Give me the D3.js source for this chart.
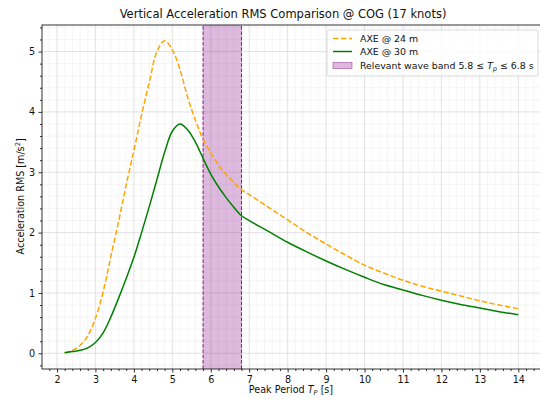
<!DOCTYPE html>
<html>
<head>
<meta charset="utf-8">
<script src="https://cdn.jsdelivr.net/npm/d3@7"></script>
<style>
  body { margin: 0; background: #fff; }
  svg { display: block; font-family: "DejaVu Sans", sans-serif; }
</style>
</head>
<body>
<svg id="chart"></svg>
<script>
// peak period Tp [s] and RMS values
const tp24 = [2.2, 2.4, 2.6, 2.8, 3.0, 3.2, 3.4, 3.6, 3.8, 4.0, 4.2, 4.4, 4.6, 4.8, 5.0, 5.2, 5.4, 5.6, 5.8, 6.0, 6.2, 6.4, 6.6, 6.8,
              7.0, 7.5, 8.0, 8.5, 9.0, 9.5, 10.0, 10.5, 11.0, 11.5, 12.0, 12.5, 13.0, 13.5, 14.0];
const rms24 = [0.01, 0.05, 0.13, 0.29, 0.58, 1.02, 1.60, 2.18, 2.79, 3.36, 3.95, 4.49, 5.00, 5.18, 5.03, 4.70, 4.24, 3.86, 3.55, 3.32, 3.12, 2.96, 2.83, 2.71,
               2.63, 2.42, 2.21, 2.00, 1.81, 1.63, 1.46, 1.33, 1.21, 1.11, 1.03, 0.95, 0.87, 0.80, 0.74];

const tp30 = tp24;
const rms30 = [0.01, 0.03, 0.05, 0.09, 0.18, 0.34, 0.60, 0.91, 1.24, 1.59, 2.0, 2.43, 2.88, 3.33, 3.68, 3.80, 3.70, 3.50, 3.23, 2.97, 2.76, 2.58, 2.42, 2.28,
               2.20, 2.02, 1.84, 1.68, 1.53, 1.39, 1.26, 1.14, 1.05, 0.96, 0.88, 0.81, 0.75, 0.69, 0.64];

const bandLo = 5.8, bandHi = 6.8;
const xTicks = d3.range(2, 15, 1);
const yTicks = [0, 1, 2, 3, 4, 5];

const W = 540, H = 399;
const m = {top: 25, right: -1, bottom: 30, left: 42};

const svg = d3.select("#chart").attr("width", W).attr("height", H);

const x = d3.scaleLinear().domain([1.61, 14.59]).range([m.left, W - m.right]);
const y = d3.scaleLinear().domain([-0.26, 5.44]).range([H - m.bottom, m.top]);

const xMinor = d3.range(1.8, 14.59, 0.2).filter(v => Math.abs(v - Math.round(v)) > 1e-6);
const yMinor = d3.range(-0.2, 5.44, 0.2).filter(v => Math.abs(v - Math.round(v)) > 1e-6);

svg.append("defs").append("clipPath").attr("id", "clip")
  .append("rect").attr("x", m.left).attr("y", m.top)
  .attr("width", W - m.right - m.left).attr("height", H - m.bottom - m.top);

// ---- grid ----
const grid = svg.append("g");
grid.selectAll(".vmin").data(xMinor).enter().append("line")
  .attr("x1", d => x(d)).attr("x2", d => x(d)).attr("y1", y.range()[0]).attr("y2", y.range()[1])
  .attr("stroke", "#eeeeee").attr("stroke-width", 0.6);
grid.selectAll(".hmin").data(yMinor).enter().append("line")
  .attr("y1", d => y(d)).attr("y2", d => y(d)).attr("x1", x.range()[0]).attr("x2", x.range()[1])
  .attr("stroke", "#eeeeee").attr("stroke-width", 0.6);
grid.selectAll(".vmaj").data(xTicks).enter().append("line")
  .attr("x1", d => x(d)).attr("x2", d => x(d)).attr("y1", y.range()[0]).attr("y2", y.range()[1])
  .attr("stroke", "#dadada").attr("stroke-width", 0.8);
grid.selectAll(".hmaj").data(yTicks).enter().append("line")
  .attr("y1", d => y(d)).attr("y2", d => y(d)).attr("x1", x.range()[0]).attr("x2", x.range()[1])
  .attr("stroke", "#dadada").attr("stroke-width", 0.8);

// ---- wave band ----
svg.append("rect")
  .attr("x", x(bandLo)).attr("y", m.top)
  .attr("width", x(bandHi) - x(bandLo)).attr("height", y.range()[0] - m.top)
  .attr("fill", "#800080").attr("fill-opacity", 0.27);
svg.selectAll(".edge").data([bandLo, bandHi]).enter().append("line")
  .attr("x1", d => x(d)).attr("x2", d => x(d)).attr("y1", y.range()[0]).attr("y2", m.top)
  .attr("stroke", "#8a1a8a").attr("stroke-width", 1).attr("stroke-dasharray", "3.7,1.6");

// ---- curves ----
const line = d3.line().x(d => x(d[0])).y(d => y(d[1])).curve(d3.curveCatmullRom.alpha(0.5));
const plot = svg.append("g").attr("clip-path", "url(#clip)");
plot.append("path").datum(tp24.map((t, i) => [t, rms24[i]]))
  .attr("d", line).attr("fill", "none").attr("stroke", "#ffa500")
  .attr("stroke-width", 1.5).attr("stroke-dasharray", "5.5,2.4");
plot.append("path").datum(tp30.map((t, i) => [t, rms30[i]]))
  .attr("d", line).attr("fill", "none").attr("stroke", "#008000")
  .attr("stroke-width", 1.5);

// ---- axes ----
svg.append("g").attr("transform", `translate(0,${y.range()[0]})`)
  .call(d3.axisBottom(x).tickValues(xTicks).tickSize(3.5).tickPadding(3.5).tickFormat(d3.format("d")));
svg.append("g").attr("transform", `translate(0,${y.range()[0]})`)
  .call(d3.axisBottom(x).tickValues(xMinor).tickSize(2).tickFormat(""));
svg.append("g").attr("transform", `translate(${m.left},0)`)
  .call(d3.axisLeft(y).tickValues(yTicks).tickSize(3.5).tickPadding(3.5).tickFormat(d3.format("d")));
svg.append("g").attr("transform", `translate(${m.left},0)`)
  .call(d3.axisLeft(y).tickValues(yMinor).tickSize(2).tickFormat(""));
svg.selectAll(".domain").remove();
svg.selectAll(".tick line").attr("stroke", "#000").attr("stroke-width", 0.8);
svg.selectAll(".tick text").attr("font-size", 9.6).attr("fill", "#111").style("font-family", "DejaVu Sans");

// spines
svg.append("rect").attr("x", m.left).attr("y", m.top)
  .attr("width", W - m.right - m.left).attr("height", y.range()[0] - m.top)
  .attr("fill", "none").attr("stroke", "#000").attr("stroke-width", 0.8);

// ---- titles ----
svg.append("text").attr("x", 283).attr("y", 18).attr("text-anchor", "middle")
  .attr("font-size", 11.5).attr("fill", "#111")
  .text("Vertical Acceleration RMS Comparison @ COG (17 knots)");

const xl = svg.append("text").attr("x", 291).attr("y", 393).attr("text-anchor", "middle")
  .attr("font-size", 9.6).attr("fill", "#111");
xl.append("tspan").text("Peak Period ");
xl.append("tspan").attr("font-style", "italic").text("T");
xl.append("tspan").attr("font-style", "italic").attr("font-size", 6.7).attr("dy", 2).text("P");
xl.append("tspan").attr("dy", -2).text(" [s]");

const yl = svg.append("text").attr("transform", `translate(24,${y(2.6)}) rotate(-90)`)
  .attr("text-anchor", "middle").attr("font-size", 9.6).attr("fill", "#111");
yl.append("tspan").text("Acceleration RMS [m/s");
yl.append("tspan").attr("font-size", 6.7).attr("dy", -4).text("2");
yl.append("tspan").attr("dy", 4).text("]");

// ---- legend ----
const lg = svg.append("g").attr("transform", "translate(327,30)");
lg.append("rect").attr("width", 211).attr("height", 46).attr("rx", 2)
  .attr("fill", "#fff").attr("fill-opacity", 0.8).attr("stroke", "#d0d0d0").attr("stroke-width", 0.8);
lg.append("line").attr("x1", 6).attr("x2", 25).attr("y1", 8.5).attr("y2", 8.5)
  .attr("stroke", "#ffa500").attr("stroke-width", 1.5).attr("stroke-dasharray", "5.5,2.4");
lg.append("line").attr("x1", 6).attr("x2", 25).attr("y1", 21.5).attr("y2", 21.5)
  .attr("stroke", "#008000").attr("stroke-width", 1.5);
lg.append("rect").attr("x", 6).attr("y", 32.5).attr("width", 19).attr("height", 6)
  .attr("fill", "#800080").attr("fill-opacity", 0.27).attr("stroke", "#800080").attr("stroke-opacity", 0.5).attr("stroke-width", 0.8);
const lt = [["AXE @ 24 m", 12], ["AXE @ 30 m", 25]];
lg.selectAll(".lt").data(lt).enter().append("text")
  .attr("x", 33).attr("y", d => d[1]).attr("font-size", 9.4).attr("fill", "#111").text(d => d[0]);
const t3 = lg.append("text").attr("x", 33).attr("y", 39).attr("font-size", 9.4).attr("fill", "#111");
t3.append("tspan").text("Relevant wave band 5.8 \u2264 ");
t3.append("tspan").attr("font-style", "italic").text("T");
t3.append("tspan").attr("font-style", "italic").attr("font-size", 6.6).attr("dy", 2).text("p");
t3.append("tspan").attr("dy", -2).text(" \u2264 6.8 s");
</script>
</body>
</html>
